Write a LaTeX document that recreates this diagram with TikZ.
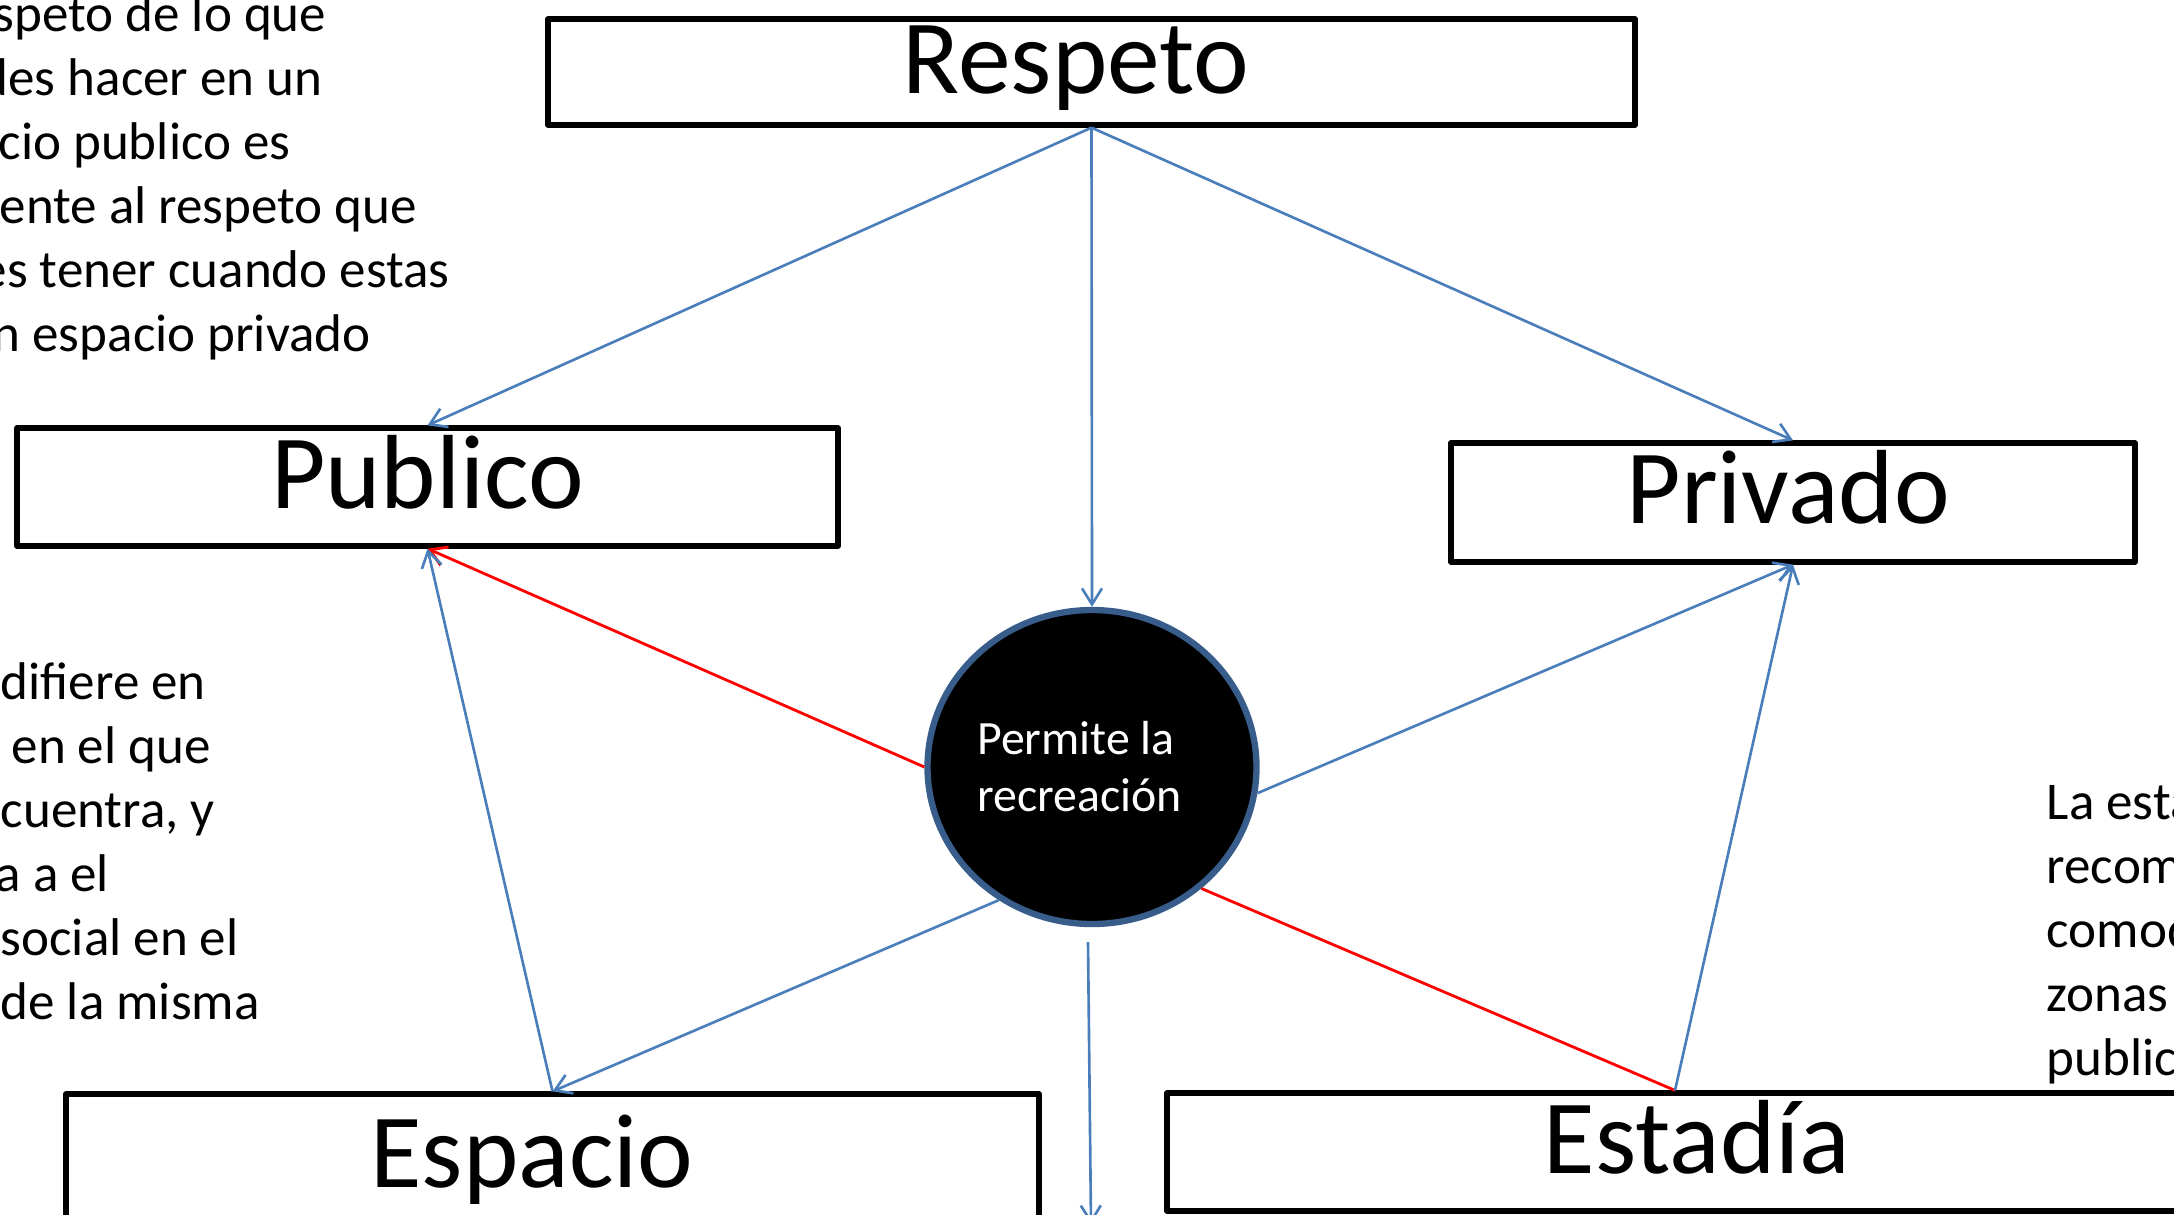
\documentclass[tikz,border=0pt]{standalone}
\usepackage{fontspec}
\setmainfont{Carlito}
\usetikzlibrary{arrows.meta,shapes.geometric}

\definecolor{lineblue}{HTML}{4A7EBB}
\definecolor{ringblue}{HTML}{385D8A}

\begin{document}
\begin{tikzpicture}
		[box/.style={
			rectangle,
			draw,
			line width=1.5pt,
			line join=round,
			inner sep=0pt,
			text height=18.6pt,
			text depth=6.6pt,
			font=\fontsize{30pt}{36pt}\selectfont
		},
		hub/.style={ellipse,draw=ringblue,line width=1.8pt,fill=black,text=white,inner sep=0pt,
			minimum width=3.29cm,minimum height=3.14cm,align=left,font=\fontsize{13.6pt}{16.2pt}\selectfont},
		note/.style={inner sep=0pt,align=left,anchor=base west,font=\fontsize{15.1pt}{18.2pt}\selectfont},
		link/.style={draw=lineblue,line width=0.75pt,-{Straight Barb[length=1.6mm,width=2mm]}},
		hot/.style={link,draw=red,line width=0.8pt}]
		\useasboundingbox (0,0) rectangle (21.74,-12.14);
		\clip (0,0) rectangle (21.74,-12.14);
		% cuadros
		\node[box,minimum width=10.87cm,minimum height=1.06cm] (respeto) at (10.915,-0.72) {Respeto\hspace*{0.31cm}};
		\node[box,minimum width=8.21cm,minimum height=1.18cm] (publico) at (4.275,-4.87) {Publico};
		\node[box,minimum width=6.84cm,minimum height=1.19cm] (privado) at (17.93,-5.025) {Privado\hspace*{0.1cm}};
		\node[box,minimum width=9.73cm,minimum height=1.44cm] (espacio) at (5.525,-11.66) {Espacio\hspace*{0.41cm}};
		\node[box,minimum width=10.16cm,minimum height=1.18cm] (estadia) at (16.75,-11.52) {\hspace*{0.44cm}Estadía};
		\node[hub] (rec) at (10.92,-7.67) {Permite la\\recreación\hspace*{0.25cm}};
		% textos cortados por el borde (anclados en la ultima linea)
		\node[note] (respnote) at (0,-3.515) {\hspace*{-0.07cm}speto de lo que\\\hspace*{-0.2cm}des hacer en un\\\hspace*{-0.02cm}cio publico es\\\hspace*{-0.01cm}ente al respeto que\\\hspace*{-0.2cm}es tener cuando estas\\\hspace*{-0.08cm}n espacio privado};
		\node[note] (espnote) at (0,-10.19) {difiere en\\\hspace*{0.11cm}en el que\\cuentra, y\\\hspace*{-0.05cm}a a el\\social en el\\de la misma};
		\node[note] (estnote) at (20.46,-10.75) {La esta\\recom\\comod\\zonas\\public};
		% flechas
		\draw[link] (respeto.south) -- (publico.north);
		\draw[link] (respeto.south) -- (rec.north);
		\draw[link] (respeto.south) -- (privado.north);
		\draw[hot] (rec.west) -- (publico.south);
		\draw[link] (rec.-9) -- (privado.south);
		\draw[link] (espacio.north) -- (publico.south);
		\draw[link] (rec.235) -- (espacio.north);
		\draw[hot,-] (rec.-48) -- (estadia.north);
		\draw[link] (estadia.north) -- (privado.south);
		\coordinate (gap) at (10.88,-9.42);
		\coordinate (below) at (10.91,-12.24);
		\draw[link] (gap) -- (below);
	\end{tikzpicture}
\end{document}
